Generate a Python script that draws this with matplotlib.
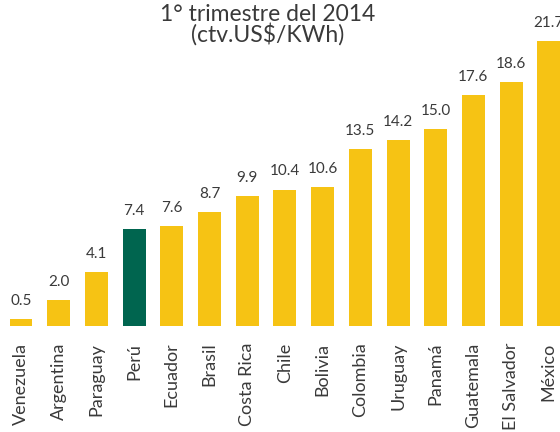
import numpy as np
import matplotlib.pyplot as plt

paises = ["Venezuela", "Argentina", "Paraguay", "Perú", "Ecuador", "Brasil", "Costa Rica",
          "Chile", "Bolivia", "Colombia", "Uruguay", "Panamá", "Guatemala", "El Salvador", "México"]
tarifas = [0.5, 2.0, 4.1, 7.4, 7.6, 8.7, 9.9, 10.4, 10.6, 13.5, 14.2, 15.0, 17.6, 18.6, 21.7]
destacado = "Perú"

amarillo = "#F6C314"
verde = "#00654F"
gris = "#3a3a3a"

plt.rcParams['font.family'] = ['Lato', 'DejaVu Sans']

fig = plt.figure(figsize=(5.6, 4.32), dpi=100)
ax = fig.add_axes([0, 106 / 432, 1, 315 / 432])

x = np.arange(len(paises))
colores = [verde if p == destacado else amarillo for p in paises]
ax.bar(x, tarifas, width=0.61, color=colores)

for xi, v in zip(x, tarifas):
    ax.annotate("%.1f" % v, (xi, v), xytext=(0, 8), textcoords="offset points",
                ha="center", va="bottom", fontsize=11, color=gris)

ax.set_xlim(-0.557, 14.297)
ax.set_ylim(0, 24)
ax.set_xticks(x)
ax.set_xticklabels(paises, rotation=90, fontsize=13, color=gris)
ax.tick_params(axis="x", length=0, pad=12)
ax.set_yticks([])
for s in ax.spines.values():
    s.set_visible(False)

fig.text(268 / 560, 1 - 25 / 432, "1° trimestre del 2014\n(ctv.US$/KWh)", ha="center", va="center",
         fontsize=16.5, color=gris, linespacing=0.9)

fig.savefig("out.png", dpi=100)
